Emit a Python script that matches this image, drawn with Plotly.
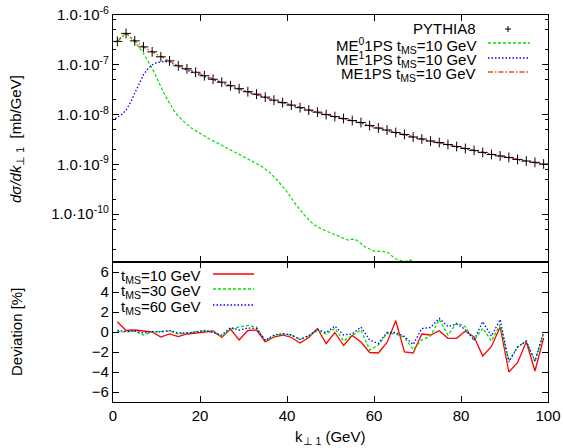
import plotly.graph_objects as go
from plotly.subplots import make_subplots

# --- bin centres (GeV) ---
k_bins = [1, 3, 5, 7, 9, 11, 13, 15, 17, 19, 21, 23, 25, 27, 29, 31, 33, 35, 37, 39,
          41, 43, 45, 47, 49, 51, 53, 55, 57, 59, 61, 63, 65, 67, 69, 71, 73, 75, 77, 79,
          81, 83, 85, 87, 89, 91, 93, 95, 97, 99]

# --- top panel: d sigma / dk [mb/GeV] ---
pythia8 = [2.95e-7, 4.27e-7, 3.02e-7, 2.29e-7, 1.82e-7, 1.45e-7, 1.20e-7, 9.55e-8, 8.32e-8, 7.08e-8,
           6.03e-8, 5.13e-8, 4.47e-8, 3.80e-8, 3.31e-8, 2.88e-8, 2.57e-8, 2.24e-8, 1.95e-8, 1.74e-8,
           1.55e-8, 1.38e-8, 1.23e-8, 1.12e-8, 1.00e-8, 9.12e-9, 8.32e-9, 7.59e-9, 6.92e-9, 6.03e-9,
           5.37e-9, 4.90e-9, 4.37e-9, 3.98e-9, 3.55e-9, 3.24e-9, 2.95e-9, 2.75e-9, 2.51e-9, 2.29e-9,
           2.09e-9, 1.91e-9, 1.74e-9, 1.58e-9, 1.48e-9, 1.38e-9, 1.26e-9, 1.17e-9, 1.10e-9, 1.02e-9]

me1ps = [2.95e-7, 4.27e-7, 3.02e-7, 2.29e-7, 1.82e-7, 1.45e-7, 1.20e-7, 9.55e-8, 8.32e-8, 7.08e-8,
         6.03e-8, 5.13e-8, 4.47e-8, 3.80e-8, 3.31e-8, 2.88e-8, 2.57e-8, 2.24e-8, 1.95e-8, 1.74e-8,
         1.55e-8, 1.38e-8, 1.23e-8, 1.12e-8, 1.00e-8, 9.12e-9, 8.32e-9, 7.59e-9, 6.92e-9, 6.03e-9,
         5.37e-9, 4.90e-9, 4.37e-9, 3.98e-9, 3.55e-9, 3.24e-9, 2.95e-9, 2.75e-9, 2.51e-9, 2.29e-9,
         2.09e-9, 1.91e-9, 1.74e-9, 1.58e-9, 1.48e-9, 1.38e-9, 1.26e-9, 1.17e-9, 1.10e-9, 1.02e-9]

me0_k = [0.5, 3, 5, 7, 9, 10, 11, 12, 13, 14, 15, 16, 18, 20, 22, 24, 26, 28, 30, 32,
         34, 36, 38, 40, 42, 44, 46, 48, 50, 52, 54, 55, 56, 58, 60, 62, 63, 65, 67, 68.5,
         70, 72]
me0_1ps = [2.82e-7, 4.37e-7, 2.88e-7, 1.70e-7, 8.51e-8, 5.75e-8, 3.63e-8, 2.40e-8, 1.70e-8, 1.20e-8,
           9.33e-9, 7.59e-9, 5.37e-9, 4.17e-9, 3.31e-9, 2.69e-9, 2.19e-9, 1.78e-9, 1.45e-9, 1.17e-9,
           9.33e-10, 6.92e-10, 4.57e-10, 2.82e-10, 1.58e-10, 9.55e-11, 6.31e-11, 5.01e-11, 4.27e-11, 3.63e-11,
           3.02e-11, 3.16e-11, 3.02e-11, 2.19e-11, 1.82e-11, 1.78e-11, 1.74e-11, 1.26e-11, 1.12e-11, 1.20e-11,
           1.0e-11, 7.9e-12]

me1_k = [0.5, 2, 3, 4, 5, 6, 7, 8, 9, 10, 11, 12, 13, 14, 15, 17, 19, 21, 23, 25,
         27, 29, 31, 33, 35, 37, 39, 41, 43, 45, 47, 49, 51, 53, 55, 57, 59, 61, 63, 65,
         67, 69, 71, 73, 75, 77, 79, 81, 83, 85, 87, 89, 91, 93, 95, 97, 99]
me1_1ps = [8.3e-9, 1.0e-8, 1.23e-8, 1.74e-8, 2.69e-8, 4.17e-8, 6.31e-8, 8.32e-8, 1.0e-7, 1.10e-7,
           1.15e-7, 1.17e-7, 1.12e-7, 1.02e-7, 9.12e-8, 7.76e-8, 6.76e-8, 5.75e-8, 5.01e-8, 4.37e-8,
           3.72e-8, 3.24e-8, 2.82e-8, 2.52e-8, 2.20e-8, 1.91e-8, 1.71e-8, 1.52e-8, 1.35e-8, 1.21e-8,
           1.10e-8, 9.8e-9, 8.94e-9, 8.15e-9, 7.44e-9, 6.78e-9, 5.91e-9, 5.26e-9, 4.80e-9, 4.28e-9,
           3.90e-9, 3.48e-9, 3.18e-9, 2.89e-9, 2.70e-9, 2.46e-9, 2.24e-9, 2.05e-9, 1.87e-9, 1.71e-9,
           1.55e-9, 1.45e-9, 1.35e-9, 1.23e-9, 1.15e-9, 1.08e-9, 1.0e-9]

# --- bottom panel: deviation [%] ---
dev_t10 = [1.03, 0.15, 0.2, 0.1, 0.0, -0.5, -0.2, -0.45, -0.2, -0.1,
           0.0, 0.1, -0.55, 0.3, -0.8, 0.15, 0.2, -1.0, -0.5, -0.3,
           -0.55, -1.1, -0.55, 0.35, -1.15, -0.05, -1.35, -0.35, -1.0, -2.05,
           -2.1, -1.05, 1.13, -2.0, -2.1, -0.2, -0.3, 0.13, -0.63, -0.63,
           0.1, -0.5, -2.4, -1.45, 0.5, -4.0, -3.07, -0.97, -3.9, -0.6]
dev_t30 = [0.05, 0.0, 0.1, -0.3, 0.0, 0.05, 0.1, -0.2, -0.1, 0.0,
           0.1, 0.0, -0.45, 0.25, 0.5, 0.65, 0.5, -0.85, -0.4, -0.2,
           -0.3, -0.75, -0.4, 0.15, -0.2, 0.37, -0.9, -0.35, 0.2, -1.8,
           -1.3, -0.13, -0.2, -0.55, -1.75, -0.8, -0.4, 1.25, -0.3, 0.9,
           0.53, -0.85, 0.37, -0.9, 0.75, -2.9, -1.5, -0.9, -2.97, -0.1]
dev_t60 = [0.15, 0.05, 0.1, -0.1, 0.05, 0.0, 0.15, -0.1, -0.1, 0.05,
           0.15, -0.05, -0.3, 0.45, 0.2, 0.4, 0.35, -0.85, -0.3, -0.15,
           -0.3, -0.75, -0.35, 0.25, -0.05, 0.6, -0.3, -0.2, 0.5, -0.8,
           -1.15, -0.05, -0.05, -0.45, -1.25, 0.35, 0.45, 1.37, 0.55, 0.8,
           0.25, -0.8, 1.03, -0.4, 1.25, -3.0, -1.5, -0.9, -2.9, 0.0]

x_ticks = [0, 20, 40, 60, 80, 100]
log_ticks = [1e-10, 1e-9, 1e-8, 1e-7, 1e-6]
log_ticktext = ["1.0·10<sup>-10</sup>", "1.0·10<sup>-9</sup>", "1.0·10<sup>-8</sup>",
                "1.0·10<sup>-7</sup>", "1.0·10<sup>-6</sup>"]
log_minor = [m * d for d in [1e-11, 1e-10, 1e-9, 1e-8, 1e-7] for m in (2, 5, 8)]
dev_ticks = [-6, -4, -2, 0, 2, 4, 6]

GREEN = "#00e000"
BLUE = "#0000ff"
RED = "#ff0000"
ORANGE = "#f0501e"
FONT = "Liberation Sans, Arial, sans-serif"

# pixel box of the plot area
L, R, T, B = 113, 548, 15, 402
W_PX, H_PX = 563, 448


def px(x, y):
    return (x - L) / (R - L), (B - y) / (B - T)


fig = make_subplots(rows=2, cols=1, shared_xaxes=True, vertical_spacing=0,
                    row_heights=[247, 140])

# --- top panel curves ---
fig.add_trace(go.Scatter(x=me0_k, y=me0_1ps, mode="lines",
                         line=dict(color=GREEN, width=1.2, dash="3px,2px")), row=1, col=1)
fig.add_trace(go.Scatter(x=me1_k, y=me1_1ps, mode="lines",
                         line=dict(color=BLUE, width=1.3, dash="1.5px,2px")), row=1, col=1)
fig.add_trace(go.Scatter(x=k_bins, y=me1ps, mode="lines",
                         line=dict(color=ORANGE, width=1.3, dash="5px,2px,1.5px,2px")), row=1, col=1)
fig.add_trace(go.Scatter(x=k_bins, y=pythia8, mode="markers",
                         marker=dict(symbol="cross-thin", size=7,
                                     line=dict(color="black", width=1))), row=1, col=1)

# --- bottom panel deviations ---
fig.add_hline(y=0, line=dict(color="black", width=1.1, dash="7px,6px"), row=2, col=1)
fig.add_trace(go.Scatter(x=k_bins, y=dev_t10, mode="lines",
                         line=dict(color=RED, width=1.3)), row=2, col=1)
fig.add_trace(go.Scatter(x=k_bins, y=dev_t30, mode="lines",
                         line=dict(color=GREEN, width=1.3, dash="3px,2px")), row=2, col=1)
fig.add_trace(go.Scatter(x=k_bins, y=dev_t60, mode="lines",
                         line=dict(color=BLUE, width=1.3, dash="1.5px,2px")), row=2, col=1)

axis_style = dict(showline=True, linecolor="black", linewidth=1.2, mirror="allticks",
                  ticks="inside", ticklen=6, tickcolor="black", tickwidth=1,
                  showgrid=False, zeroline=False, automargin=False,
                  ticklabeloverflow="allow")

fig.update_xaxes(range=[0, 100], tickvals=x_ticks, **axis_style)
fig.update_xaxes(showticklabels=False, row=1, col=1)
fig.update_yaxes(**axis_style)
fig.update_yaxes(type="log", range=[-10.96, -6], tickvals=log_ticks, ticktext=log_ticktext,
                 minor=dict(tickvals=log_minor, ticks="inside", ticklen=3, tickcolor="black"),
                 row=1, col=1)
fig.update_yaxes(range=[-7, 7], tickvals=dev_ticks, row=2, col=1)

# --- key boxes (gnuplot style: text right-aligned, sample to the right) ---
annotations = []
shapes = []


def key_text(text, x, y):
    ax, ay = px(x, y)
    annotations.append(dict(text=text, x=ax, y=ay, xref="paper", yref="paper",
                            xanchor="right", yanchor="middle", showarrow=False,
                            font=dict(size=15, color="black", family=FONT)))


def key_line(x0, x1, y, color, dash, width=1.3):
    a0, ay = px(x0, y)
    a1, _ = px(x1, y)
    shapes.append(dict(type="line", xref="paper", yref="paper", x0=a0, x1=a1, y0=ay, y1=ay,
                       line=dict(color=color, width=width, dash=dash)))


key_text("PYTHIA8", 478, 29)
a0, ay0 = px(505, 29)
a1, ay1 = px(511, 29)
shapes.append(dict(type="line", xref="paper", yref="paper", x0=a0, x1=a1, y0=ay0, y1=ay0,
                   line=dict(color="black", width=1)))
bx, by0 = px(508, 26)
_, by1 = px(508, 32)
shapes.append(dict(type="line", xref="paper", yref="paper", x0=bx, x1=bx, y0=by0, y1=by1,
                   line=dict(color="black", width=1)))

key_text("ME<sup>0</sup>1PS t<sub>MS</sub>=10 GeV", 478, 45)
key_line(488, 530, 43, GREEN, "3px,2px")
key_text("ME<sup>1</sup>1PS t<sub>MS</sub>=10 GeV", 478, 60)
key_line(488, 530, 58, BLUE, "1.5px,2px")
key_text("ME1PS t<sub>MS</sub>=10 GeV", 478, 74)
key_line(488, 530, 72, ORANGE, "5px,2px,1.5px,2px")

key_text("t<sub>MS</sub>=10 GeV", 203, 276)
key_line(213, 254, 274, RED, "solid")
key_text("t<sub>MS</sub>=30 GeV", 203, 291)
key_line(213, 254, 289, GREEN, "3px,2px")
key_text("t<sub>MS</sub>=60 GeV", 203, 307)
key_line(213, 254, 305, BLUE, "1.5px,2px")

# --- axis titles ---
tx, ty = px(16, 139)
annotations.append(dict(text="<i>dσ/dk</i><sub>⊥ 1</sub>\u00a0\u00a0[mb/GeV]", x=tx, y=ty,
                        xref="paper", yref="paper", textangle=-90, showarrow=False,
                        xanchor="center", yanchor="middle",
                        font=dict(size=15, color="black", family=FONT)))
tx, ty = px(16, 332)
annotations.append(dict(text="Deviation [%]", x=tx, y=ty, xref="paper", yref="paper",
                        textangle=-90, showarrow=False, xanchor="center", yanchor="middle",
                        font=dict(size=15, color="black", family=FONT)))
tx, ty = px(330, 437)
annotations.append(dict(text="k<sub>⊥ 1</sub> (GeV)", x=tx, y=ty, xref="paper", yref="paper",
                        showarrow=False, xanchor="center", yanchor="middle",
                        font=dict(size=15, color="black", family=FONT)))

fig.update_layout(
    width=W_PX, height=H_PX,
    margin=dict(l=L, r=W_PX - R, t=T, b=H_PX - B),
    paper_bgcolor="white", plot_bgcolor="white",
    showlegend=False,
    font=dict(family=FONT, size=15, color="black"),
    annotations=annotations,
    shapes=list(fig.layout.shapes) + shapes,
)

# drop the default page margin so the figure sits at the window's corner
fig.write_html("out.html", config={"displayModeBar": False},
               post_script="document.body.style.margin='0';")
